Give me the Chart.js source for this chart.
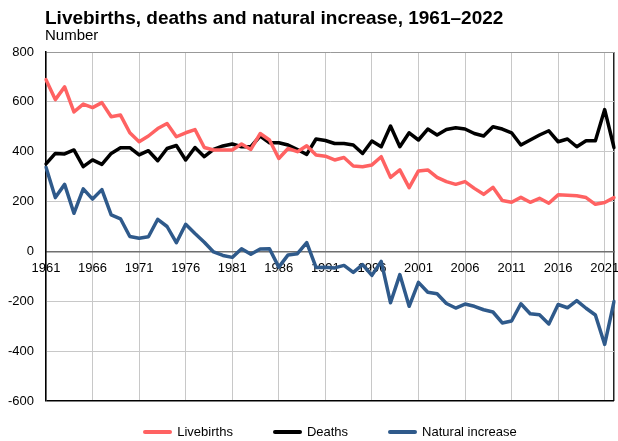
<!DOCTYPE html>
<html>
<head>
<meta charset="utf-8">
<script src="https://cdn.jsdelivr.net/npm/chart.js@4/dist/chart.umd.min.js"></script>
<style>
  body { margin: 0; background: #fff; }
  #wrap { position: relative; width: 618px; height: 441px; font-family: 'Liberation Sans', Arial, sans-serif; color: #000; }
  #wrap canvas { position: absolute; left: 0; top: 0; }
  #title { position: absolute; left: 45px; top: 8px; font-size: 19px; font-weight: bold; line-height: 19px; white-space: nowrap; }
  #sub { position: absolute; left: 45px; top: 27px; font-size: 15px; line-height: 15px; }
  #legend { position: absolute; left: 46px; width: 568px; top: 424px; display: flex; justify-content: center; gap: 40px; font-size: 13px; line-height: 15px; }
  #legend .item { display: flex; align-items: center; }
  #legend .swatch { width: 29px; height: 4px; border-radius: 2px; margin-right: 5px; }
</style>
</head>
<body>
<div id="wrap">
  <canvas id="chart" width="618" height="441"></canvas>
  <div id="title">Livebirths, deaths and natural increase, 1961–2022</div>
  <div id="sub">Number</div>
  <div id="legend"></div>
</div>
<script>
'use strict';

var YEARS = [
  '1961','1962','1963','1964','1965','1966','1967','1968','1969','1970',
  '1971','1972','1973','1974','1975','1976','1977','1978','1979','1980',
  '1981','1982','1983','1984','1985','1986','1987','1988','1989','1990',
  '1991','1992','1993','1994','1995','1996','1997','1998','1999','2000',
  '2001','2002','2003','2004','2005','2006','2007','2008','2009','2010',
  '2011','2012','2013','2014','2015','2016','2017','2018','2019','2020',
  '2021','2022'
];

// labelled years on the time axis (every fifth year)
var TICK_YEARS = ['1961','1966','1971','1976','1981','1986','1991','1996','2001','2006','2011','2016','2021'];

var LIVEBIRTHS = [
  689, 609, 660, 560, 591, 577, 597, 540, 547, 476,
  440, 463, 493, 513, 460, 476, 489, 417, 407, 407,
  407, 431, 409, 473, 447, 373, 413, 400, 424, 387,
  382, 367, 377, 343, 340, 347, 380, 297, 327, 256,
  323, 327, 297, 280, 269, 280, 253, 229, 257, 204,
  197, 217, 197, 213, 193, 227, 225, 223, 216, 189,
  196, 216
];

var DEATHS = [
  351, 393, 391, 407, 340, 367, 349, 393, 416, 416,
  387, 404, 364, 413, 425, 367, 417, 380, 409, 423,
  431, 420, 420, 463, 436, 436, 427, 409, 389, 451,
  445, 433, 433, 427, 393, 443, 420, 503, 420, 476,
  447, 491, 467, 489, 496, 491, 473, 463, 500, 491,
  476, 427, 447, 467, 484, 440, 451, 420, 444, 444,
  569, 417
];

var NATURAL_INCREASE = [
  338, 216, 269, 153, 251, 210, 248, 147, 131, 60,
  53, 59, 129, 100, 35, 109, 72, 37, -2, -16,
  -24, 11, -11, 10, 11, -63, -14, -9, 35, -64,
  -63, -66, -56, -84, -53, -96, -40, -206, -93, -220,
  -124, -164, -170, -209, -227, -211, -220, -234, -243, -287,
  -279, -210, -250, -254, -291, -213, -226, -197, -228, -255,
  -373, -201
];

var SERIES = [
  { label: 'Livebirths',       data: LIVEBIRTHS,       color: '#ff6262' },
  { label: 'Deaths',           data: DEATHS,           color: '#000000' },
  { label: 'Natural increase', data: NATURAL_INCREASE, color: '#2f5a8b' }
];

var FONT = "'Liberation Sans', Arial, sans-serif";
var GRID = '#c8c8c8';

/* ── legend (plain html, sits under the plot) ── */
document.getElementById('legend').innerHTML = SERIES.map(function (s) {
  return '<span class="item"><span class="swatch" style="background:' + s.color + '"></span>' + s.label + '</span>';
}).join('');

new Chart(document.getElementById('chart').getContext('2d'), {
  type: 'line',
  data: {
    labels: YEARS,
    datasets: SERIES.map(function (s) {
      return {
        label: s.label,
        data: s.data,
        borderColor: s.color,
        backgroundColor: s.color,
        borderWidth: 3.5,
        borderJoinStyle: 'round',
        borderCapStyle: 'round',
        pointRadius: 0,
        tension: 0,
        fill: false
      };
    })
  },
  options: {
    responsive: false,
    animation: false,
    layout: { padding: { top: 52, right: 4, bottom: 40, left: 0 } },
    plugins: { legend: { display: false }, tooltip: { enabled: false } },
    scales: {
      x: {
        position: { y: 0 },
        // labels hang off the zero line, so the axis takes no room of its own
        afterFit: function (s) { s.height = 0; s.paddingLeft = 0; s.paddingRight = 0; },
        border: { display: true, color: '#707070', width: 1.5 },
        grid: {
          drawTicks: false,
          lineWidth: function (c) { return c.index === YEARS.length - 1 ? 1.5 : 1; },
          color: function (c) {
            if (c.index === YEARS.length - 1) return '#222';
            return TICK_YEARS.indexOf(YEARS[c.index]) >= 0 ? GRID : 'rgba(0,0,0,0)';
          }
        },
        ticks: {
          autoSkip: false,
          maxRotation: 0,
          padding: 9,
          color: '#000',
          font: { family: FONT, size: 13 },
          callback: function (v, i) {
            return TICK_YEARS.indexOf(YEARS[i]) >= 0 ? YEARS[i] : '';
          }
        }
      },
      y: {
        min: -600,
        max: 800,
        afterFit: function (s) { s.width = 46; },
        border: { display: true, color: '#000', width: 1.5 },
        grid: {
          drawTicks: false,
          lineWidth: function (c) { return c.tick && c.tick.value === -600 ? 1.5 : 1; },
          color: function (c) {
            var v = c.tick ? c.tick.value : null;
            if (v === -600) return '#000';
            if (v === 0) return '#707070';
            if (v === 800) return '#999';
            return GRID;
          }
        },
        ticks: {
          stepSize: 200,
          padding: 12,
          color: '#000',
          font: { family: FONT, size: 13 }
        }
      }
    }
  }
});
</script>
</body>
</html>
